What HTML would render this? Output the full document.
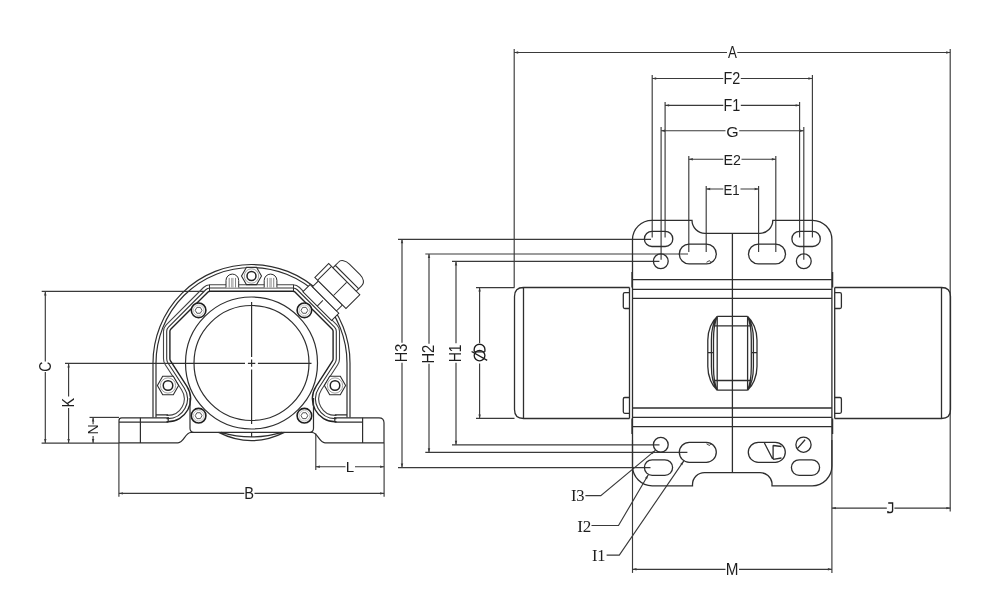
<!DOCTYPE html>
<html><head><meta charset="utf-8"><style>
html,body{margin:0;padding:0;background:#fff;width:990px;height:599px;overflow:hidden}
svg{display:block;will-change:transform}
</style></head><body>
<svg width="990" height="599" viewBox="0 0 990 599">
<rect width="990" height="599" fill="#fff"/>
<g>

<g fill="none" stroke="#3a3a3a" stroke-width="1.15">
<path d="M514.2 52.5H727 M737.3 52.5H950.2"/>
<path d="M514.2 49 L514.2 287.6"/>
<path d="M950.2 49 L950.2 511.6"/>
<path d="M652.2 78.5H723.3 M740.8 78.5H812.4"/>
<path d="M652.2 75 L652.2 237.6"/>
<path d="M812.4 75 L812.4 237.6"/>
<path d="M665.1 105.4H723.3 M740.8 105.4H799.6"/>
<path d="M665.1 102 L665.1 237.6"/>
<path d="M799.6 102 L799.6 237.6"/>
<path d="M661.1 130.7H725.5 M739.2 130.7H803.8"/>
<path d="M661.1 127 L661.1 259.8"/>
<path d="M803.8 127 L803.8 259.8"/>
<path d="M688.8 159.2H723.3 M741.5 159.2H775.8"/>
<path d="M688.8 156 L688.8 252"/>
<path d="M775.8 156 L775.8 252"/>
<path d="M706.2 189H723.3 M740.5 189H758.6"/>
<path d="M706.2 186 L706.2 252"/>
<path d="M758.6 186 L758.6 252"/>
<path d="M402 239.3V342.8 M402 362.8V467.6"/>
<path d="M398 239.3 L651 239.3"/>
<path d="M398 467.6 L650.5 467.6"/>
<path d="M429 254V343.8 M429 363.8V452.3"/>
<path d="M425.3 254 L688 254"/>
<path d="M425.3 452.3 L687.4 452.3"/>
<path d="M456 261.4V343.3 M456 362.8V444.8"/>
<path d="M452 261.4 L659.4 261.4"/>
<path d="M452 444.8 L659.5 444.8"/>
<path d="M479.6 287.6V343 M479.6 363.5V418.4"/>
<path d="M476 287.6 L514.5 287.6"/>
<path d="M476 418.4 L514.5 418.4"/>
<path d="M831.9 508.1H886.8 M894.4 508.1H950.3"/>
<path d="M831.9 440 L831.9 572.9"/>
<path d="M632.5 569.3H725.5 M739 569.3H831.9"/>
<path d="M632.5 440 L632.5 572.9"/>
<path d="M45.3 291.4V361.4 M45.3 372V443.1"/>
<path d="M41.7 291.4 L204 291.4"/>
<path d="M41.6 443.1 L119 443.1"/>
<path d="M68.6 363.4V396.5 M68.6 408V443.1"/>
<path d="M65 363.4 L180 363.4"/>
<path d="M93.1 417.4V424.2 M93.1 435.9V443.1"/>
<path d="M89.5 417.4 L119 417.4"/>
<path d="M315.8 466.7H345.5 M355 466.7H384.1"/>
<path d="M315.8 433.5 L315.8 470"/>
<path d="M384.1 443 L384.1 496.8"/>
<path d="M118.9 443 L118.9 496.8"/>
<path d="M118.9 493.4H244.3 M254.5 493.4H384.1"/>
<path d="M585.4 495.6 L600.8 495.6 L655.3 450.4"/>
<path d="M591.5 525.5 L618.5 525.5 L648.3 474.8"/>
<path d="M606.6 555.1 L619.3 555.1 L683.8 460.9"/>
</g><g fill="#3a3a3a">
<polygon points="514.2,52.5 518.2,51.3 518.2,53.7"/>
<polygon points="950.2,52.5 946.2,51.3 946.2,53.7"/>
<polygon points="652.2,78.5 656.2,77.3 656.2,79.7"/>
<polygon points="812.4,78.5 808.4,77.3 808.4,79.7"/>
<polygon points="665.1,105.4 669.1,104.2 669.1,106.6"/>
<polygon points="799.6,105.4 795.6,104.2 795.6,106.6"/>
<polygon points="661.1,130.7 665.1,129.5 665.1,131.9"/>
<polygon points="803.8,130.7 799.8,129.5 799.8,131.9"/>
<polygon points="688.8,159.2 692.8,158 692.8,160.4"/>
<polygon points="775.8,159.2 771.8,158 771.8,160.4"/>
<polygon points="706.2,189 710.2,187.8 710.2,190.2"/>
<polygon points="758.6,189 754.6,187.8 754.6,190.2"/>
<polygon points="402,239.3 400.8,243.3 403.2,243.3"/>
<polygon points="402,467.6 400.8,463.6 403.2,463.6"/>
<polygon points="429,254 427.8,258 430.2,258"/>
<polygon points="429,452.3 427.8,448.3 430.2,448.3"/>
<polygon points="456,261.4 454.8,265.4 457.2,265.4"/>
<polygon points="456,444.8 454.8,440.8 457.2,440.8"/>
<polygon points="479.6,287.6 478.4,291.6 480.8,291.6"/>
<polygon points="479.6,418.4 478.4,414.4 480.8,414.4"/>
<polygon points="831.9,508.1 835.9,506.9 835.9,509.3"/>
<polygon points="950.3,508.1 946.3,506.9 946.3,509.3"/>
<polygon points="632.5,569.3 636.5,568.1 636.5,570.5"/>
<polygon points="831.9,569.3 827.9,568.1 827.9,570.5"/>
<polygon points="45.3,291.4 44.1,295.4 46.5,295.4"/>
<polygon points="45.3,443.1 44.1,439.1 46.5,439.1"/>
<polygon points="68.6,363.4 67.4,367.4 69.8,367.4"/>
<polygon points="68.6,443.1 67.4,439.1 69.8,439.1"/>
<polygon points="93.1,417.4 91.9,421.4 94.3,421.4"/>
<polygon points="93.1,443.1 91.9,439.1 94.3,439.1"/>
<polygon points="315.8,466.7 319.8,465.5 319.8,467.9"/>
<polygon points="384.1,466.7 380.1,465.5 380.1,467.9"/>
<polygon points="118.9,493.4 122.9,492.2 122.9,494.6"/>
<polygon points="384.1,493.4 380.1,492.2 380.1,494.6"/>
<polygon points="655.3,450.4 652.6,454.2 651.07,452.35"/>
<polygon points="648.3,474.8 647.05,479.29 644.99,478.07"/>
<polygon points="683.8,460.9 682.25,465.29 680.27,463.94"/>
</g>
<g fill="#1e1e1e">
<text transform="translate(732.3,52.6) rotate(0) scale(0.8585,1.0165) translate(-5.125,5.312)" style="font-family:'Liberation Sans',sans-serif;font-size:15.5px">A</text>
<text transform="translate(732.1,78.6) rotate(0) scale(0.9302,1.0483) translate(-9.312,5.438)" style="font-family:'Liberation Sans',sans-serif;font-size:15.5px">F2</text>
<text transform="translate(732.1,105.2) rotate(0) scale(0.9302,1.0729) translate(-9.312,5.312)" style="font-family:'Liberation Sans',sans-serif;font-size:15.5px">F1</text>
<text transform="translate(732.2,131.65) rotate(0) scale(1.0272,0.9727) translate(-5.812,5.375)" style="font-family:'Liberation Sans',sans-serif;font-size:15.5px">G</text>
<text transform="translate(732.4,160.15) rotate(0) scale(0.9176,0.9471) translate(-9.750,5.438)" style="font-family:'Liberation Sans',sans-serif;font-size:15.5px">E2</text>
<text transform="translate(731.85,189.5) rotate(0) scale(0.8529,0.9600) translate(-9.750,5.312)" style="font-family:'Liberation Sans',sans-serif;font-size:15.5px">E1</text>
<text transform="translate(732.1,569.05) rotate(0) scale(0.9831,1.0635) translate(-6.438,5.312)" style="font-family:'Liberation Sans',sans-serif;font-size:15.5px">M</text>
<text transform="translate(249.3,493.35) rotate(0) scale(0.9455,1.0259) translate(-5.375,5.312)" style="font-family:'Liberation Sans',sans-serif;font-size:15.5px">B</text>
<text transform="translate(350.35,466.6) rotate(0) scale(0.9745,0.9788) translate(-4.688,5.312)" style="font-family:'Liberation Sans',sans-serif;font-size:15.5px">L</text>
<text transform="translate(401.75,352.75) rotate(-90) scale(0.9343,1.0273) translate(-10.188,5.375)" style="font-family:'Liberation Sans',sans-serif;font-size:15.5px">H3</text>
<text transform="translate(428.75,354) rotate(-90) scale(0.9465,1.0391) translate(-10.125,5.438)" style="font-family:'Liberation Sans',sans-serif;font-size:15.5px">H2</text>
<text transform="translate(455.55,353.05) rotate(-90) scale(0.9007,1.0447) translate(-10.188,5.312)" style="font-family:'Liberation Sans',sans-serif;font-size:15.5px">H1</text>
<text transform="translate(45.25,366.55) rotate(-90) scale(0.9013,1.0636) translate(-5.688,5.375)" style="font-family:'Liberation Sans',sans-serif;font-size:15.5px">C</text>
<text transform="translate(68.55,402.3) rotate(-90) scale(0.9239,1.0071) translate(-5.688,5.312)" style="font-family:'Liberation Sans',sans-serif;font-size:15.5px">K</text>
<text transform="translate(92.8,429.3) rotate(-90) scale(0.9143,0.9976) translate(-5.625,5.312)" style="font-family:'Liberation Sans',sans-serif;font-size:15.5px">N</text>
<text transform="translate(577.75,495.4) rotate(0) scale(1.0000,0.9708) translate(-6.875,5.438)" style="font-family:'Liberation Serif',serif;font-size:16.5px">I3</text>
<text transform="translate(584.15,526) rotate(0) scale(1.0367,1.0000) translate(-6.750,5.500)" style="font-family:'Liberation Serif',serif;font-size:16.5px">I2</text>
<text transform="translate(598.55,555.1) rotate(0) scale(0.9979,1.0115) translate(-6.688,5.438)" style="font-family:'Liberation Serif',serif;font-size:16.5px">I1</text>
</g>
<g fill="none" stroke="#1e1e1e" stroke-width="1.35">
<path d="M474.2 351.8H484.9 M474.2 351.8V349.2A5.35 5 0 0 1 484.9 349.2V351.8"/>
<ellipse cx="479.55" cy="355.6" rx="5.35" ry="5.2"/>
<path d="M471.6 351.5L487.2 360.3"/>
<path d="M888.2 503.0H892.6V510.2Q892.6 512.5 890.3 512.5H887.9V511"/>
</g>
<g id="rightview" fill="none" stroke="#2e2e2e" stroke-width="1.3">
<!-- covers -->
<path d="M629.5 287.5H523.5Q514.5 287.5 514.5 296.5V409.5Q514.5 418.5 523.5 418.5H629.5 M523.5 287.5V418.5"/>
<path d="M834.7 287.5H941.5Q950.5 287.5 950.5 296.5V409.5Q950.5 418.5 941.5 418.5H834.7 M941.5 287.5V418.5"/>
<!-- flange outline -->
<path d="M632.5 467.5V239.5A19.5 19.5 0 0 1 652 220.3H692A13 13 0 0 0 705 233.3H759.8A13 13 0 0 0 772.8 220.3H812.6A19.5 19.5 0 0 1 831.9 239.8V466A19.7 19.7 0 0 1 812.2 485.8H772V483A12 12 0 0 0 760 472.6H704.5A12 12 0 0 0 692.5 484.5V485.8H652.4A19.7 19.7 0 0 1 632.5 466"/>
<!-- end rings -->
<path d="M629.5 287.5V418.5 M834.7 287.5V418.5 M632 272V287.5 M632 418.5V434 M832.6 272V287.5 M832.6 418.5V434"/>
<!-- bolt heads -->
<path d="M629.5 292.7H624.8Q623.3 292.7 623.3 294.2V307Q623.3 308.5 624.8 308.5H629.5 M629.5 397.5H624.8Q623.3 397.5 623.3 399V411.8Q623.3 413.3 624.8 413.3H629.5"/>
<path d="M834.7 292.7H839.9Q841.4 292.7 841.4 294.2V307Q841.4 308.5 839.9 308.5H834.7 M834.7 397.5H839.9Q841.4 397.5 841.4 399V411.8Q841.4 413.3 839.9 413.3H834.7"/>
<!-- body lines -->
<path d="M632.5 279.7H831.9 M632.5 289.3H831.9 M632.5 298.3H831.9 M632.5 408H831.9 M632.5 417.3H831.9 M632.5 426.6H831.9"/>
<!-- center line -->
<path d="M732.4 233.3V472.6"/>
<!-- top holes -->
<rect x="644.4" y="231.3" width="28.4" height="15.2" rx="7.6"/>
<rect x="791.9" y="231.3" width="28.4" height="15.2" rx="7.6"/>
<rect x="679.3" y="244.2" width="37" height="19.6" rx="9.8"/>
<rect x="748.5" y="244.2" width="37" height="19.6" rx="9.8"/>
<circle cx="660.8" cy="261.3" r="7.4"/>
<circle cx="803.8" cy="261.3" r="7.4"/>
<!-- bottom holes -->
<rect x="644.4" y="459.8" width="28.2" height="15.6" rx="7.8"/>
<rect x="791.4" y="459.8" width="28.2" height="15.6" rx="7.8"/>
<rect x="679.3" y="442.3" width="37" height="20" rx="10"/>
<rect x="748.3" y="442.3" width="37" height="20" rx="10"/>
<circle cx="660.8" cy="444.7" r="7.4"/>
<circle cx="803.5" cy="444.7" r="7.6"/>
<path d="M797.5 448.4L805.1 439.8 M764.4 443L772.5 458.7 M773.1 445.2V459.3 M773.1 445.5L781.5 446.5 M773.1 459.3L781.5 458"/>
<path d="M706.5 262.3L709.5 260.6L711 262.6 M706.5 443.8L709.5 445.5L711 443.5" stroke-width="0.9"/>
<!-- terminal box -->
<path d="M717.2 316.4H747.6 M717.2 390.2H747.6 M713.5 325.9H751.3 M713.5 380.5H751.3 M717.2 316.4V390.2 M747.6 316.4V390.2"/>
<path d="M717.2 316.4C712.0 321 707.8 330 707.8 340V366.6C707.8 376.6 712.0 385.6 717.2 390.2 M717.2 316.4C714.0 321 711.4 330 711.4 340V366.6C711.4 376.6 714.0 385.6 717.2 390.2 M717.2 316.4C715.2 321 713.5 330 713.5 340V366.6C713.5 376.6 715.2 385.6 717.2 390.2 M707.8 352.6H712.8"/>
<path d="M747.6 316.4C752.8 321 757.0 330 757.0 340V366.6C757.0 376.6 752.8 385.6 747.6 390.2 M747.6 316.4C750.8 321 753.4 330 753.4 340V366.6C753.4 376.6 750.8 385.6 747.6 390.2 M747.6 316.4C749.6 321 751.3 330 751.3 340V366.6C751.3 376.6 749.6 385.6 747.6 390.2 M757 352.6H752"/>
</g>


<g id="leftview" fill="none" stroke="#2e2e2e" stroke-width="1.2">
<path d="M153 417.5V363A98.5 98.5 0 0 1 350 363V417.5 M156 417.5V363A95.5 95.5 0 0 1 347 363V417.5"/>
<path d="M166.5 415.4 L167.64 415.4 A16.6 16.6 0 0 0 181.56 389.76 L165.31 364.73 A11.2 11.2 0 0 1 163.5 358.63 L163.5 331.29 A9.2 9.2 0 0 1 166.19 324.78 L203.48 287.49 A9.2 9.2 0 0 1 209.99 284.8 L293.01 284.8 A9.2 9.2 0 0 1 299.52 287.49 L336.81 324.78 A9.2 9.2 0 0 1 339.5 331.29 L339.5 358.63 A11.2 11.2 0 0 1 337.69 364.73 L321.44 389.76 A16.6 16.6 0 0 0 335.36 415.4 L336.5 415.4" stroke="#444" stroke-width="1.1"/>
<path d="M166.5 418.6 L167.64 418.6 A19.8 19.8 0 0 0 184.24 388.02 L167.99 362.99 A8 8 0 0 1 166.7 358.63 L166.7 331.29 A6 6 0 0 1 168.46 327.04 L205.74 289.76 A6 6 0 0 1 209.99 288 L293.01 288 A6 6 0 0 1 297.26 289.76 L334.54 327.04 A6 6 0 0 1 336.3 331.29 L336.3 358.63 A8 8 0 0 1 335.01 362.99 L318.76 388.02 A19.8 19.8 0 0 0 335.36 418.6 L336.5 418.6" stroke="#333" stroke-width="1.1"/>
<path d="M166.5 421.8 L167.64 421.8 A23 23 0 0 0 186.93 386.27 L170.67 361.24 A4.8 4.8 0 0 1 169.9 358.63 L169.9 331.29 A2.8 2.8 0 0 1 170.72 329.31 L208.01 292.02 A2.8 2.8 0 0 1 209.99 291.2 L293.01 291.2 A2.8 2.8 0 0 1 294.99 292.02 L332.28 329.31 A2.8 2.8 0 0 1 333.1 331.29 L333.1 358.63 A4.8 4.8 0 0 1 332.33 361.24 L316.07 386.27 A23 23 0 0 0 335.36 421.8 L336.5 421.8" stroke="#222" stroke-width="1.4"/>
<path d="M156 414.9H168.2 M347 414.9H334.8 M119 422.2H168.2 M362.6 422.2H334.8 M168.2 417V422.2 M334.8 417V422.2"/>
<path d="M119 443V420.5Q119 417.8 121.7 417.8H168.2 M384 443V422.8Q384 417.8 379 417.8H334.8" />
<path d="M119 442.8H178C184 442.8 185 432.5 191 432.5H312C318 432.5 319 442.8 325 442.8H384 M140.4 417.8V442.8 M362.6 417.8V442.8"/>
<path d="M190 398V428.3Q190 432.3 194 432.3H309.5Q313.5 432.3 313.5 428.3V398"/>
<path d="M218.6 432.4Q251.5 449 284.4 432.4 M221 432.4Q251.5 441.5 282 432.4"/>
<circle cx="251.5" cy="363" r="66"/>
<circle cx="251.5" cy="363" r="57.5"/>
<path d="M180 363.3H245 M247.9 363.3H255.3 M257.9 363.3H311.5 M251.6 302V357 M251.6 359.6V366.8 M251.6 369.6V424 M251.6 432.4V437"/>
</g>
<circle cx="198.6" cy="310.3" r="7.3" stroke="#1e1e1e" stroke-width="1.6" fill="#fff"/><circle cx="198.6" cy="310.3" r="5.3" stroke="#aaa" stroke-width="0.7" fill="none"/><polygon points="202,310.3 200.3,313.24 196.9,313.24 195.2,310.3 196.9,307.36 200.3,307.36" stroke="#444" stroke-width="0.9" fill="none"/><circle cx="304.4" cy="310.3" r="7.3" stroke="#1e1e1e" stroke-width="1.6" fill="#fff"/><circle cx="304.4" cy="310.3" r="5.3" stroke="#aaa" stroke-width="0.7" fill="none"/><polygon points="307.8,310.3 306.1,313.24 302.7,313.24 301,310.3 302.7,307.36 306.1,307.36" stroke="#444" stroke-width="0.9" fill="none"/><circle cx="198.6" cy="415.7" r="7.3" stroke="#1e1e1e" stroke-width="1.6" fill="#fff"/><circle cx="198.6" cy="415.7" r="5.3" stroke="#aaa" stroke-width="0.7" fill="none"/><polygon points="202,415.7 200.3,418.64 196.9,418.64 195.2,415.7 196.9,412.76 200.3,412.76" stroke="#444" stroke-width="0.9" fill="none"/><circle cx="304.4" cy="415.7" r="7.3" stroke="#1e1e1e" stroke-width="1.6" fill="#fff"/><circle cx="304.4" cy="415.7" r="5.3" stroke="#aaa" stroke-width="0.7" fill="none"/><polygon points="307.8,415.7 306.1,418.64 302.7,418.64 301,415.7 302.7,412.76 306.1,412.76" stroke="#444" stroke-width="0.9" fill="none"/>
<polygon points="178.6,385.5 173.3,394.68 162.7,394.68 157.4,385.5 162.7,376.32 173.3,376.32" fill="#fff" stroke="#2e2e2e" stroke-width="1.1"/><circle cx="168" cy="385.5" r="7.63" stroke="#888" stroke-width="0.8" fill="none"/><circle cx="168" cy="385.5" r="4.77" stroke="#222" stroke-width="1.5" fill="none"/><polygon points="345.6,385.5 340.3,394.68 329.7,394.68 324.4,385.5 329.7,376.32 340.3,376.32" fill="#fff" stroke="#2e2e2e" stroke-width="1.1"/><circle cx="335" cy="385.5" r="7.63" stroke="#888" stroke-width="0.8" fill="none"/><circle cx="335" cy="385.5" r="4.77" stroke="#222" stroke-width="1.5" fill="none"/><polygon points="261.5,276 256.5,284.66 246.5,284.66 241.5,276 246.5,267.34 256.5,267.34" fill="#fff" stroke="#2e2e2e" stroke-width="1.1"/><circle cx="251.5" cy="276" r="7.2" stroke="#888" stroke-width="0.8" fill="none"/><circle cx="251.5" cy="276" r="4.5" stroke="#222" stroke-width="1.5" fill="none"/>
<g stroke="#2e2e2e" stroke-width="1">
<path d="M209.5 284.7V291 M293.5 284.7V291" />
</g>
<path d="M226 287.5 V280.45 A6.35 6.35 0 0 1 238.7 280.45 V287.5" fill="#fff" stroke="#2e2e2e" stroke-width="1"/><path d="M229.18 277.91 V287.5" stroke="#666" stroke-width="0.8"/><path d="M231.72 277.91 V287.5" stroke="#888" stroke-width="0.8"/><path d="M232.98 277.91 V287.5" stroke="#888" stroke-width="0.8"/><path d="M235.52 277.91 V287.5" stroke="#666" stroke-width="0.8"/><path d="M264.2 287.5 V280.45 A6.35 6.35 0 0 1 276.9 280.45 V287.5" fill="#fff" stroke="#2e2e2e" stroke-width="1"/><path d="M267.38 277.91 V287.5" stroke="#666" stroke-width="0.8"/><path d="M269.91 277.91 V287.5" stroke="#888" stroke-width="0.8"/><path d="M271.19 277.91 V287.5" stroke="#888" stroke-width="0.8"/><path d="M273.72 277.91 V287.5" stroke="#666" stroke-width="0.8"/>
<g transform="translate(317.25,306.1) rotate(-45)" fill="#fff" stroke="#2e2e2e" stroke-width="1">
<rect x="0" y="-20.3" width="10.2" height="40.6"/>
<path d="M0 0H8" fill="none"/>
<rect x="10.2" y="-17" width="8.4" height="34"/>
<rect x="18.6" y="-22" width="19.6" height="44"/>
<path d="M18.6 -18H38.2 M19 4H37.5" fill="none"/>
<path d="M41.5 -16H46A6 9 0 0 1 52.5 -7V8A6 9 0 0 1 46 17H41.5Z"/>
<path d="M38.2 -16V17H41.5V-16Z"/>
</g>

</g></svg>
</body></html>
